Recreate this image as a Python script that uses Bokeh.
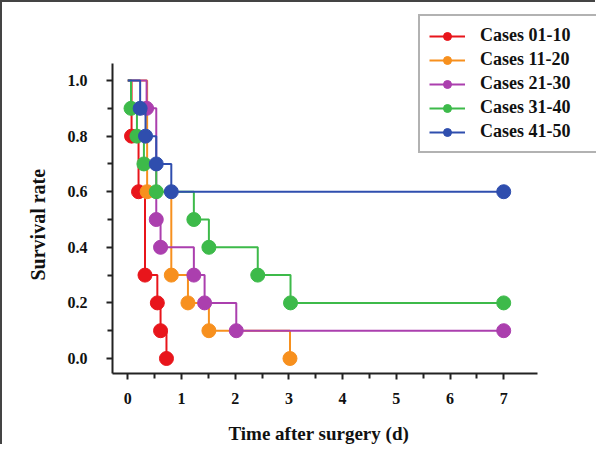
from bokeh.plotting import figure
from bokeh.models import Legend, LegendItem, FixedTicker, NumeralTickFormatter, Range1d, Title
from bokeh.embed import file_html
from bokeh.resources import INLINE

# ---- data ----
series_names = ["Cases 01-10", "Cases 11-20", "Cases 21-30", "Cases 31-40", "Cases 41-50"]
colors = ["#e8151b", "#f7901e", "#ab3fae", "#3dba4a", "#2f4eae"]

red_t = [0.0, 0.07, 0.20, 0.32, 0.55, 0.61, 0.72]
red_s = [1.0, 0.8, 0.6, 0.3, 0.2, 0.1, 0.0]

orange_t = [0.0, 0.36, 0.81, 1.12, 1.51, 3.02]
orange_s = [1.0, 0.6, 0.3, 0.2, 0.1, 0.0]

purple_t = [0.0, 0.35, 0.53, 0.61, 1.23, 1.43, 2.02, 7.0]
purple_s = [1.0, 0.9, 0.5, 0.4, 0.3, 0.2, 0.1, 0.1]

green_t = [0.0, 0.06, 0.17, 0.30, 0.53, 1.23, 1.51, 2.42, 3.03, 7.0]
green_s = [1.0, 0.9, 0.8, 0.7, 0.6, 0.5, 0.4, 0.3, 0.2, 0.2]

blue_t = [0.0, 0.23, 0.33, 0.53, 0.81, 7.0]
blue_s = [1.0, 0.9, 0.8, 0.7, 0.6, 0.6]

x_ticks = [0, 1, 2, 3, 4, 5, 6, 7]
x_minor = [0.5, 1.5, 2.5, 3.5, 4.5, 5.5, 6.5]
y_ticks = [0.0, 0.2, 0.4, 0.6, 0.8, 1.0]
y_minor = [0.1, 0.3, 0.5, 0.7, 0.9]

x_title = "Time after surgery (d)"
y_title = "Survival rate"

all_t = [red_t, orange_t, purple_t, green_t, blue_t]
all_s = [red_s, orange_s, purple_s, green_s, blue_s]

FONT = "Liberation Serif"

p = figure(width=595, height=444, output_backend="svg", toolbar_location=None,
           x_range=Range1d(-0.285, 8.728), y_range=Range1d(-0.054, 1.252),
           min_border_left=110, min_border_right=1, min_border_top=8, min_border_bottom=73)
p.styles = {"border-top": "2px solid #444", "border-left": "2px solid #444"}
p.outline_line_color = None
p.xgrid.visible = False
p.ygrid.visible = False

items = []
for name, c, t, s in zip(series_names, colors, all_t, all_s):
    ln = p.step(t, s, mode="after", line_color=c, line_width=2)
    sc = p.scatter(t[1:], s[1:], size=14, fill_color=c, line_color=c)
    items.append(LegendItem(label=name, renderers=[ln, sc]))

for ax in (p.xaxis[0], p.yaxis[0]):
    ax.axis_line_width = 2
    ax.axis_line_color = "#222"
    ax.major_tick_line_color = "#222"
    ax.minor_tick_line_color = "#222"
    ax.major_tick_line_width = 2
    ax.minor_tick_line_width = 2
    ax.major_tick_in = 0
    ax.minor_tick_in = 0
    ax.major_tick_out = 6
    ax.minor_tick_out = 5
    ax.major_label_text_font = FONT
    ax.major_label_text_font_style = "bold"
    ax.major_label_text_font_size = "16px"
    ax.major_label_text_color = "#111"

p.xaxis.ticker = FixedTicker(ticks=x_ticks, minor_ticks=x_minor)
p.yaxis.ticker = FixedTicker(ticks=y_ticks, minor_ticks=y_minor)
p.xaxis.bounds = (-0.285, 7.63)
p.yaxis.bounds = (-0.054, 1.061)
p.yaxis.formatter = NumeralTickFormatter(format="0.0")
p.xaxis.major_label_standoff = 13
p.yaxis.major_label_standoff = 19
# small blank spacer under the x tick labels
p.xaxis.axis_label = " "
p.xaxis.axis_label_text_font_size = "6px"
p.xaxis.axis_label_standoff = 4

# axis titles, offset so they are centred on the drawn axes rather than the frame
xt = Title(text=x_title, align="left", offset=116, vertical_align="bottom",
           text_font=FONT, text_font_style="bold", text_font_size="19px",
           text_color="#111", standoff=2)
p.add_layout(xt, "below")
yt = Title(text=y_title, align="left", offset=93, vertical_align="bottom",
           text_font=FONT, text_font_style="bold", text_font_size="20px",
           text_color="#111", standoff=32)
p.add_layout(yt, "left")

legend = Legend(items=items, location=(306, 220))
legend.label_text_font = FONT
legend.label_text_font_style = "bold"
legend.label_text_font_size = "18px"
legend.label_text_color = "#111"
legend.glyph_width = 36
legend.label_width = 112
legend.label_standoff = 15
legend.spacing = 3
legend.padding = 9
legend.margin = 0
legend.border_line_color = "#666"
legend.border_line_width = 2
legend.background_fill_color = "white"
legend.background_fill_alpha = 1.0
p.add_layout(legend, "center")

open("out.html", "w").write(file_html(p, INLINE))
